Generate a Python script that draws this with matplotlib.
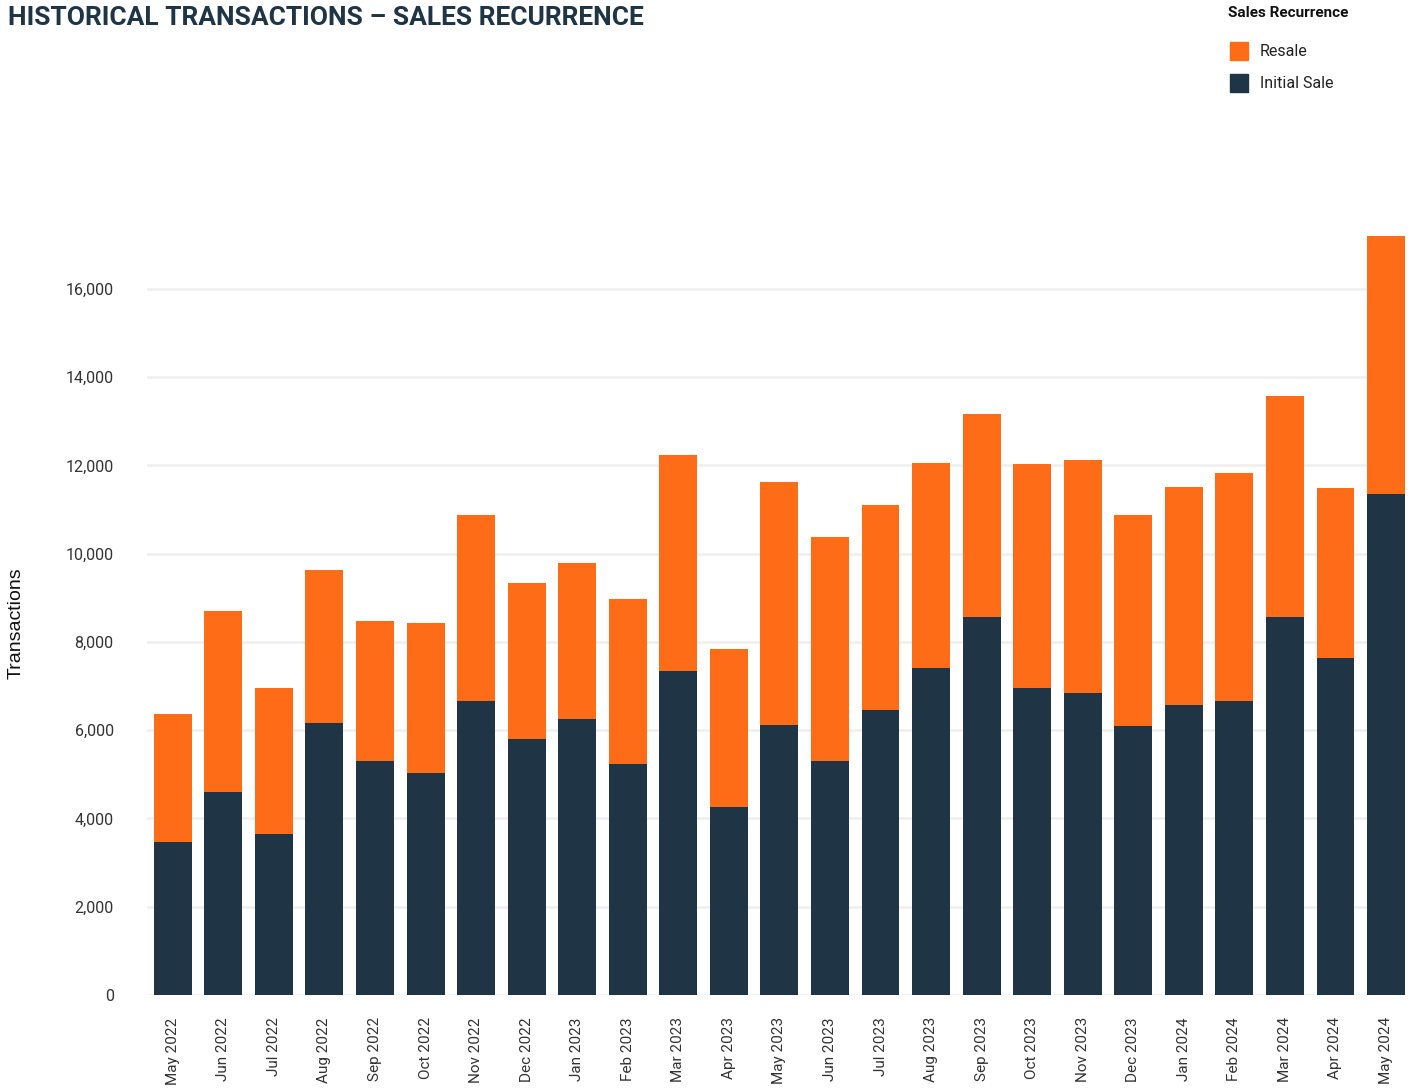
import matplotlib.pyplot as plt
import matplotlib.patches as mpatches
from matplotlib.ticker import FuncFormatter

months = ['May 2022', 'Jun 2022', 'Jul 2022', 'Aug 2022', 'Sep 2022', 'Oct 2022',
          'Nov 2022', 'Dec 2022', 'Jan 2023', 'Feb 2023', 'Mar 2023', 'Apr 2023',
          'May 2023', 'Jun 2023', 'Jul 2023', 'Aug 2023', 'Sep 2023', 'Oct 2023',
          'Nov 2023', 'Dec 2023', 'Jan 2024', 'Feb 2024', 'Mar 2024', 'Apr 2024',
          'May 2024']
initial_sale = [3470, 4600, 3650, 6160, 5300, 5030, 6660, 5800, 6250, 5240, 7340, 4260,
                6120, 5300, 6460, 7410, 8570, 6960, 6840, 6100, 6570, 6660, 8570, 7640,
                11350]
resale = [2900, 4100, 3310, 3470, 3180, 3400, 4220, 3540, 3540, 3730, 4900, 3580,
          5510, 5080, 4640, 4650, 4600, 5070, 5280, 4780, 4940, 5170, 5000, 3850,
          5850]
y_ticks = [0, 2000, 4000, 6000, 8000, 10000, 12000, 14000, 16000]
legend_labels = ['Resale', 'Initial Sale']

navy = '#1F3546'
orange = '#FF6C17'

W, H = 1413, 1088
fig = plt.figure(figsize=(W / 100, H / 100), dpi=100)
ax = fig.add_axes([147 / W, 1 - 995 / H, (1405 - 147) / W, (995 - 236) / H])

x = list(range(len(months)))
ax.bar(x, initial_sale, width=0.75, color=navy, zorder=2)
ax.bar(x, resale, width=0.75, bottom=initial_sale, color=orange, zorder=2)

ax.set_xlim(-0.51, len(months) - 1 + 0.375)
ax.set_ylim(0, 17200)
ax.set_yticks(y_ticks)
ax.yaxis.set_major_formatter(FuncFormatter(lambda v, p: f'{int(v):,}'))
ax.set_xticks(x)
ax.set_xticklabels(months, rotation=90, fontsize=11, color='#333333', family='Roboto')
for lab in ax.get_yticklabels():
    lab.set_family('Roboto')
ax.tick_params(axis='y', length=0, pad=24, labelsize=11.5, labelcolor='#333333')
ax.tick_params(axis='x', length=0, pad=16)
ax.grid(axis='y', color='#EFEFEF', linewidth=1.8, zorder=0)
for s in ax.spines.values():
    s.set_visible(False)

ax.set_ylabel('Transactions', fontsize=14, family='Liberation Sans', color='#111111')
ax.yaxis.set_label_coords(-0.097, 0.49)

fig.text(8 / W, 1 - 18 / H, 'HISTORICAL TRANSACTIONS \u2013 SALES RECURRENCE',
         fontsize=19, fontweight='bold', family='Roboto', color='#1F3546',
         va='center', ha='left')

# legend drawn by hand in figure pixels
fig.text(1228 / W, 1 - 13 / H, 'Sales Recurrence', fontsize=11, fontweight='bold',
         family='Roboto', color='#111111', va='center', ha='left')
for i, (lab, col) in enumerate(zip(legend_labels, [orange, navy])):
    yc = 51 + 32 * i
    fig.patches.append(mpatches.Rectangle((1230 / W, 1 - (yc + 9) / H), 18 / W, 18 / H,
                                          color=col, transform=fig.transFigure))
    fig.text(1260 / W, 1 - yc / H, lab, fontsize=11.5, family='Roboto',
             color='#222222', va='center', ha='left')

fig.savefig('out.png', dpi=100)
